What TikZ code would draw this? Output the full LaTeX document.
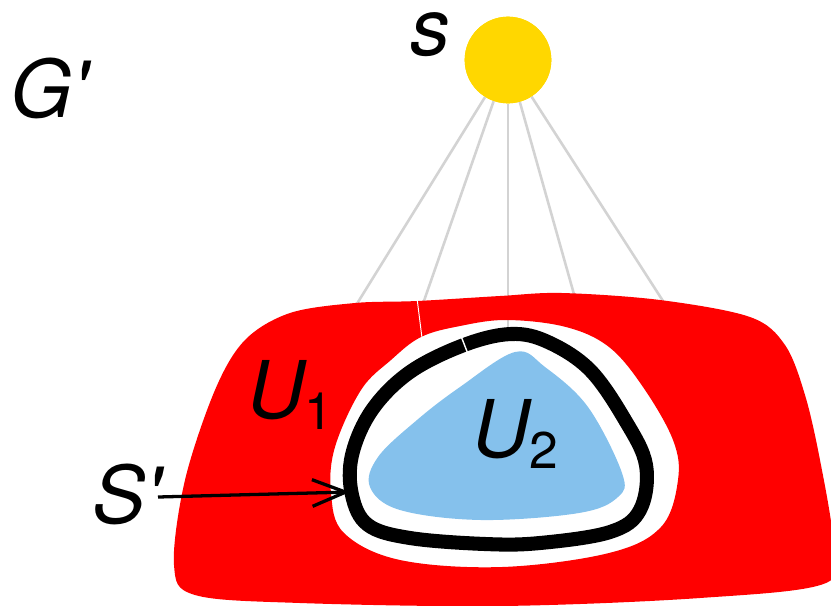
\documentclass[tikz,border=0pt]{standalone}
\usepackage{fontspec}
\setmainfont{TeX Gyre Heros}
\usetikzlibrary{arrows.meta}
\definecolor{regionred}{HTML}{FF0000}
\definecolor{sunyellow}{HTML}{FFD700}
\definecolor{innerblue}{HTML}{85C1EC}
\definecolor{linkgray}{HTML}{D3D3D3}
\newcommand{\lowidx}[1]{\raisebox{-10pt}{\fontsize{44}{46}\selectfont\upshape #1}}

\begin{document}
\begin{tikzpicture}[x=0.03cm, y=-0.03cm,
  lbl/.style={font=\fontsize{68}{70}\selectfont\itshape, inner sep=0pt, anchor=base west},
  link/.style={draw=linkgray, line width=2.2pt},
  arrow/.style={-{Straight Barb[length=1cm, width=0.8cm]}, line width=2.8pt}
]
  \useasboundingbox (0,0) rectangle (831,605);
  \clip (0,-40) rectangle (831,605);

  % source vertex and its links
  \node[circle, fill=sunyellow, inner sep=0pt, minimum size=2.6cm] (s) at (508,60) {};
  \coordinate (e1) at (350,315);
  \coordinate (e2) at (418,318);
  \coordinate (e3) at (508,330);
  \coordinate (e4) at (579,312);
  \coordinate (e5) at (672,315);
  \foreach \e in {e1,e2,e3,e4,e5}
    \draw[link] (s) -- (\e);
  \node[circle, fill=sunyellow, inner sep=0pt, minimum size=2.6cm] at (s) {};

  % U_1 with its hole
  \fill[regionred, even odd rule]
    plot[smooth cycle, tension=0.55] coordinates {
      (355,303) (417,301) (500,296) (562,293) (660,300) (750,317) (785,345)
      (805,395) (820,460) (833,540) (826,583) (700,598) (502,606) (300,603)
      (195,595) (174,565) (185,480) (215,390) (245,340) (290,313)}
    plot[smooth cycle, tension=0.6] coordinates {
      (421,337) (460,326) (507,320) (566,327) (609,347) (643,387) (673,440)
      (678,480) (661,527) (609,553) (502,567) (400,560) (344,533) (331,493)
      (335,447) (361,390) (391,360)};
  \draw[white, line width=0.8pt] (417,298) -- (422,338);

  % U_2
  \fill[innerblue]
    plot[smooth cycle, tension=0.6] coordinates {
      (515,352) (545,367) (588,407) (622,473) (618,497) (579,513) (481,520)
      (400,510) (370,487) (378,457) (417,420) (460,387)};

  % S'
  \draw[line width=12pt]
    plot[smooth cycle, tension=0.6] coordinates {
      (464,345) (511,334) (548,342) (590,370) (625,420) (646,465) (640,510)
      (610,532) (540,543) (485,544) (410,538) (368,525) (352,495) (352,455)
      (372,410) (410,372)};
  \draw[white, line width=1.2pt] (461,336) -- (468,354);

  % labels
  \node[lbl] (ls) at (410,55) {s};
  \node[lbl] (lg) at (10,117) {G\textquotesingle};
  \node[lbl] (lu1) at (247,418) {U\lowidx{1}};
  \node[lbl] (lu2) at (472,457) {U\lowidx{2}};
  \node[lbl] (lsp) at (92,523) {S\textquotesingle};
  \coordinate (tip) at (350,492);
  \draw[arrow] (158,497) -- (tip);
\end{tikzpicture}
\end{document}
